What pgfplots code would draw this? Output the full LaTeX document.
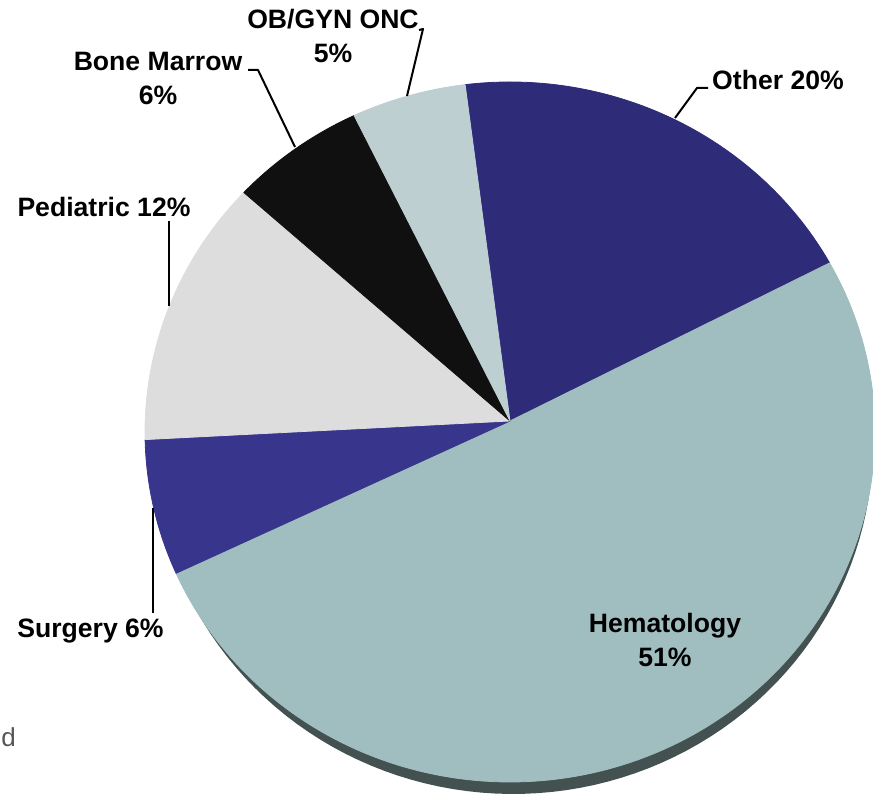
\documentclass[border=0pt]{standalone}
\usepackage{pgfplots}
\pgfplotsset{compat=1.18}
\usepackage{fontspec}
\setmainfont{Liberation Sans}

\definecolor{cOther}{HTML}{2E2B78}
\definecolor{cHema}{HTML}{A0BEC0}
\definecolor{cSurg}{HTML}{38358C}
\definecolor{cPed}{HTML}{DDDDDD}
\definecolor{cBone}{HTML}{101010}
\definecolor{cOB}{HTML}{BECFD2}
\definecolor{cShadow}{HTML}{435151}
\definecolor{cGrey}{HTML}{555555}

% shares (percent), clockwise from the top
\def\pOther{19.8}
\def\pHema{50.5}
\def\pSurg{6.0}
\def\pPed{12.1}
\def\pBone{6.2}
\def\pOB{5.4}
\def\startangle{97.6}

\pgfmathsetmacro{\bA}{\startangle}
\pgfmathsetmacro{\bB}{\bA-3.6*\pOther}
\pgfmathsetmacro{\bC}{\bB-3.6*\pHema}
\pgfmathsetmacro{\bD}{\bC-3.6*\pSurg}
\pgfmathsetmacro{\bE}{\bD-3.6*\pPed}
\pgfmathsetmacro{\bF}{\bE-3.6*\pBone}
\pgfmathsetmacro{\bG}{\bF-3.6*\pOB}

\begin{document}
\begin{tikzpicture}
\begin{axis}[
  x=0.5pt, y=0.5pt,
  xmin=0, xmax=873, ymin=0, ymax=795,
  hide axis, clip=true,
  declare function={
    ea(\t)=cos(\t)^2/13.3225+sin(\t)^2/12.25;
    eb(\t)=0.22*sin(\t)/12.25;
    es(\t)=100*(-eb(\t)+sqrt(eb(\t)^2+4*ea(\t)*(1-0.0121/12.25)))/(2*ea(\t));
  },
  every axis plot/.append style={line join=round},
]
\coordinate (ll) at (axis cs:0,0);
\coordinate (ur) at (axis cs:873,795);

% shadow
\addplot[fill=cShadow, draw=none, domain=0:360, samples=160, variable=\t]
  ({513+360*cos(\t)}, {351+350*sin(\t)}) -- cycle;

% sectors
\addplot[fill=cOther, draw=cOther, line width=0.4pt, domain=\bB:\bA, samples=60, variable=\t]
  ({510+es(\t)*cos(\t)}, {374+es(\t)*sin(\t)}) -- (axis cs:510,374) -- cycle;
\addplot[fill=cHema, draw=cHema, line width=0.4pt, domain=\bC:\bB, samples=140, variable=\t]
  ({510+es(\t)*cos(\t)}, {374+es(\t)*sin(\t)}) -- (axis cs:510,374) -- cycle;
\addplot[fill=cSurg, draw=cSurg, line width=0.4pt, domain=\bD:\bC, samples=30, variable=\t]
  ({510+es(\t)*cos(\t)}, {374+es(\t)*sin(\t)}) -- (axis cs:510,374) -- cycle;
\addplot[fill=cPed, draw=cPed, line width=0.4pt, domain=\bE:\bD, samples=40, variable=\t]
  ({510+es(\t)*cos(\t)}, {374+es(\t)*sin(\t)}) -- (axis cs:510,374) -- cycle;
\addplot[fill=cBone, draw=cBone, line width=0.4pt, domain=\bF:\bE, samples=30, variable=\t]
  ({510+es(\t)*cos(\t)}, {374+es(\t)*sin(\t)}) -- (axis cs:510,374) -- cycle;
\addplot[fill=cOB, draw=cOB, line width=0.4pt, domain=\bG:\bF, samples=30, variable=\t]
  ({510+es(\t)*cos(\t)}, {374+es(\t)*sin(\t)}) -- (axis cs:510,374) -- cycle;

% leader lines
\addplot[black, line width=1pt] coordinates {(419,765) (423,766) (407,699)};
\addplot[black, line width=1pt] coordinates {(248,725) (258,725) (295,648)};
\addplot[black, line width=1pt] coordinates {(169,574) (169,489)};
\addplot[black, line width=1pt] coordinates {(153,287) (153,182)};
\addplot[black, line width=1pt] coordinates {(708,707) (697,707) (675,677)};

% labels
\begin{scope}[every node/.style={font=\fontsize{13.3}{17}\selectfont\bfseries, align=center, inner sep=0pt}]
\node at (axis cs:333,759) {OB/GYN ONC\\5\%};
\node at (axis cs:158,716.5) {Bone Marrow\\6\%};
\node at (axis cs:104,588) {Pediatric 12\%};
\node at (axis cs:90.5,164) {Surgery 6\%};
\node at (axis cs:778,715) {Other 20\%};
\node at (axis cs:665,155) {Hematology\\51\%};
\end{scope}
\node[anchor=base west, inner sep=0pt, text=cGrey, font=\fontsize{13}{16}\selectfont] at (axis cs:1,48) {d};
\end{axis}
\pgfresetboundingbox
\useasboundingbox (ll) rectangle (ur);
\end{tikzpicture}
\end{document}
